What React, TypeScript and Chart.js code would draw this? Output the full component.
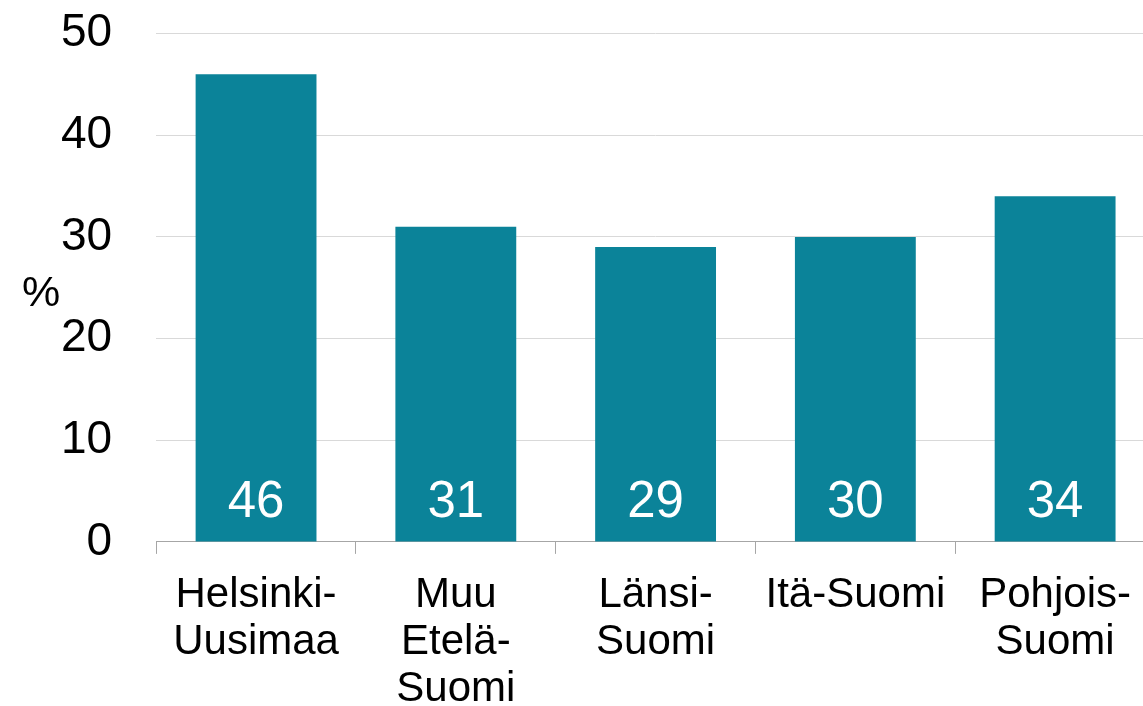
import React, { useEffect, useRef } from "react";
import { Chart, registerables } from "chart.js";

Chart.register(...registerables);

const categories: string[][] = [
  ["Helsinki-", "Uusimaa"],
  ["Muu", "Etelä-", "Suomi"],
  ["Länsi-", "Suomi"],
  ["Itä-Suomi"],
  ["Pohjois-", "Suomi"],
];
const values: number[] = [46, 31, 29, 30, 34];
const yMin = 0;
const yMax = 50;
const yStep = 10;
const yAxisLabel = "%";

const FONT = "'Liberation Sans', Arial, sans-serif";
const BAR = "#0B8399";
const SHIFT = 38;

const valueLabels = {
  id: "valueLabels",
  afterDatasetsDraw(chart: any) {
    const ctx = chart.ctx;
    const meta = chart.getDatasetMeta(0);
    ctx.save();
    ctx.fillStyle = "#ffffff";
    ctx.font = `51px ${FONT}`;
    ctx.textAlign = "center";
    ctx.textBaseline = "alphabetic";
    meta.data.forEach((el: any, i: number) => {
      ctx.fillText(String(values[i]), el.x, el.base - 24);
    });
    ctx.restore();
  },
};

const yTitle = {
  id: "yTitle",
  afterDraw(chart: any) {
    const ctx = chart.ctx;
    ctx.save();
    ctx.fillStyle = "#000000";
    ctx.font = `43px ${FONT}`;
    ctx.textAlign = "center";
    ctx.textBaseline = "middle";
    ctx.fillText(yAxisLabel, 41, 294 + SHIFT);
    ctx.restore();
  },
};

export default function App() {
  const ref = useRef<HTMLCanvasElement | null>(null);

  useEffect(() => {
    if (!ref.current) return;
    const chart = new Chart(ref.current, {
      type: "bar",
      data: {
        labels: categories,
        datasets: [
          {
            data: values,
            backgroundColor: BAR,
            borderWidth: 0,
            categoryPercentage: 1,
            barPercentage: 0.605,
          },
        ],
      },
      options: {
        responsive: false,
        animation: false,
        layout: { padding: { left: 17, top: 0, right: 0, bottom: 0 } },
        plugins: {
          legend: { display: false },
          tooltip: { enabled: false },
        },
        scales: {
          x: {
            offset: true,
            grid: {
              offset: true,
              drawOnChartArea: false,
              drawTicks: true,
              tickLength: 12,
              color: "#A6A6A6",
              lineWidth: 1,
            },
            border: { display: true, color: "#A6A6A6", width: 1 },
            ticks: {
              color: "#000000",
              font: { family: FONT, size: 42, lineHeight: 1.12 },
              padding: 18,
              maxRotation: 0,
              minRotation: 0,
              autoSkip: false,
            },
          },
          y: {
            min: yMin,
            max: yMax,
            grid: { color: "#D9D9D9", lineWidth: 1, drawTicks: false },
            border: { display: false },
            ticks: {
              stepSize: yStep,
              color: "#000000",
              font: { family: FONT, size: 46 },
              padding: 44,
            },
          },
        },
      },
      plugins: [valueLabels, yTitle],
    });
    return () => chart.destroy();
  }, []);

  return (
    <div
      style={{
        position: "absolute",
        left: 0,
        top: 0,
        width: 1143,
        height: 706,
        overflow: "hidden",
        background: "#ffffff",
      }}
    >
      <canvas
        ref={ref}
        width={1155}
        height={769}
        style={{ display: "block", position: "absolute", left: 0, top: -SHIFT }}
      />
    </div>
  );
}
